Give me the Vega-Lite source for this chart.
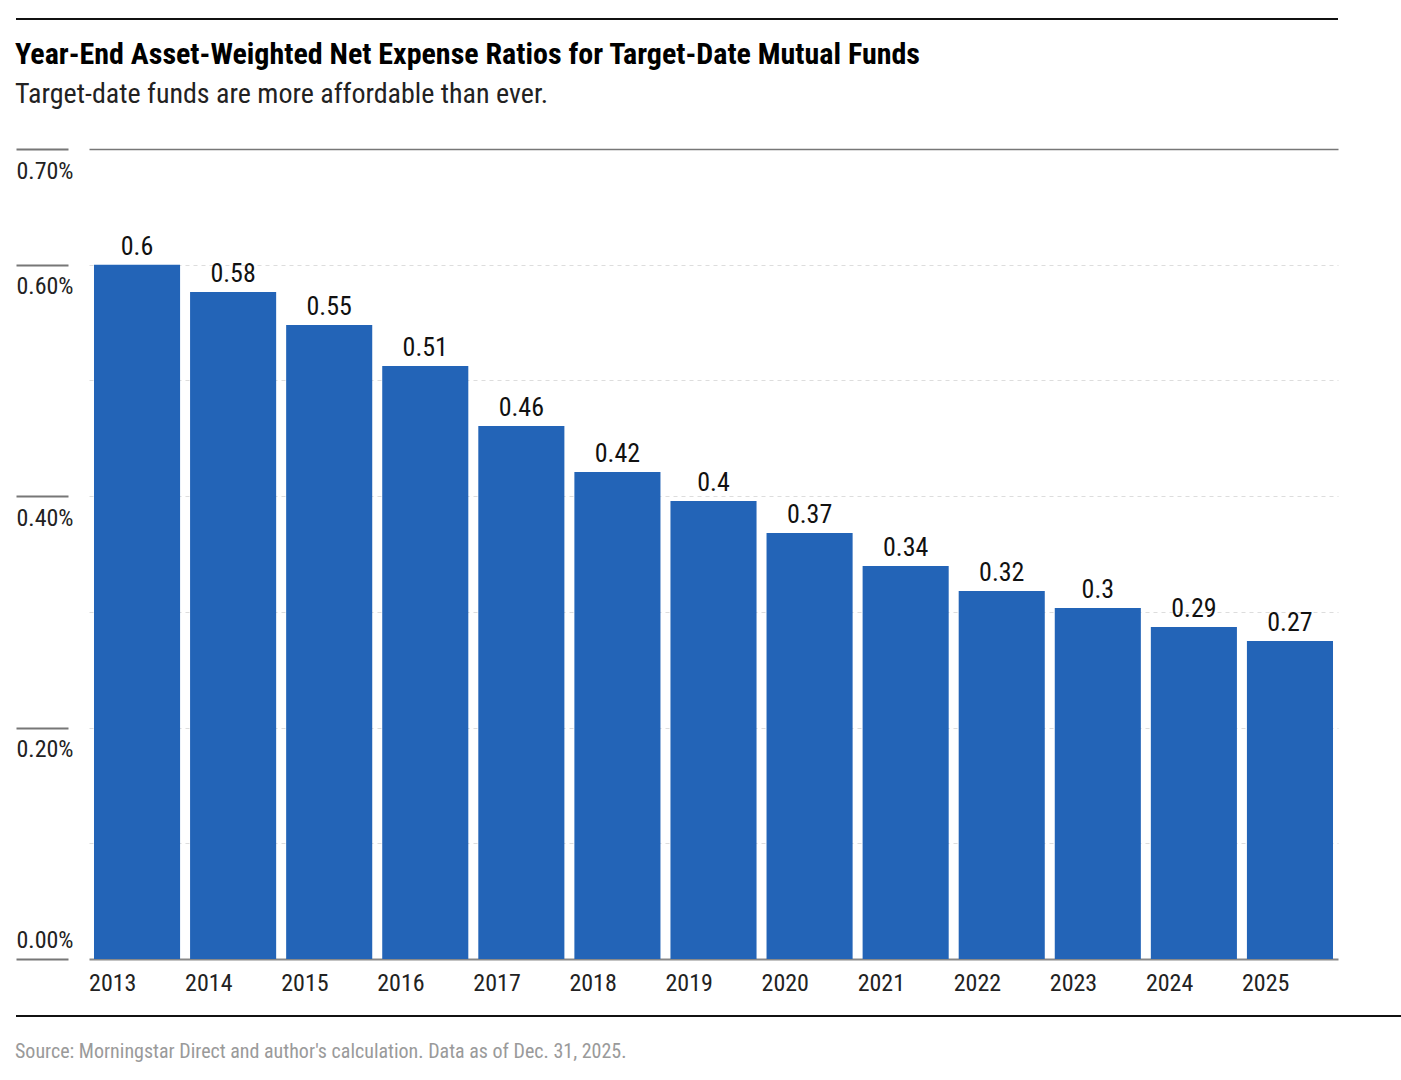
{
  "$schema": "https://vega.github.io/schema/vega-lite/v6.json",
  "description": "Year-end asset-weighted net expense ratios for target-date mutual funds, 2013-2025.",
  "background": "white",
  "padding": {"left": 15, "top": 18, "right": 0, "bottom": 5},
  "config": {
    "view": {"stroke": null},
    "font": "Roboto Condensed, Liberation Sans Narrow, DejaVu Sans Condensed, Roboto, sans-serif"
  },
  "spacing": 20,
  "vconcat": [
    {
      "width": 1249,
      "height": 2,
      "data": {"values": [{"start": 0, "end": 1, "level": 0.5}]},
      "mark": {"type": "rule", "color": "#111111", "strokeWidth": 2},
      "encoding": {
        "x": {"field": "start", "type": "quantitative", "axis": null, "scale": {"domain": [0, 1], "nice": false}},
        "x2": {"field": "end"},
        "y": {
          "field": "level",
          "type": "quantitative",
          "scale": {"domain": [0, 1], "nice": false},
          "axis": {"title": null, "values": [0.5], "labels": false, "domain": false, "grid": false, "translate": 0, "tickSize": 73, "tickColor": "#111111", "tickWidth": 2}
        }
      }
    },
    {
      "title": {
        "text": "Year-End Asset-Weighted Net Expense Ratios for Target-Date Mutual Funds",
        "subtitle": "Target-date funds are more affordable than ever.",
        "anchor": "start",
        "frame": "bounds",
        "fontSize": 30,
        "fontWeight": "bold",
        "color": "#000000",
        "subtitleFontSize": 28,
        "subtitleColor": "#222222",
        "subtitlePadding": 11,
        "offset": 39
      },
      "width": 1249,
      "height": 810,
      "data": {
        "values": [
          {"year": "2013", "ratio": 0.6},
          {"year": "2014", "ratio": 0.5765},
          {"year": "2015", "ratio": 0.548},
          {"year": "2016", "ratio": 0.5125},
          {"year": "2017", "ratio": 0.4607},
          {"year": "2018", "ratio": 0.4209},
          {"year": "2019", "ratio": 0.3958},
          {"year": "2020", "ratio": 0.3682},
          {"year": "2021", "ratio": 0.3397},
          {"year": "2022", "ratio": 0.318},
          {"year": "2023", "ratio": 0.3034},
          {"year": "2024", "ratio": 0.2869},
          {"year": "2025", "ratio": 0.2748}
        ]
      },
      "encoding": {
        "x": {
          "field": "year",
          "type": "ordinal",
          "scale": {"paddingInner": 0.104, "paddingOuter": 0.052},
          "axis": {
            "title": null,
            "labelAngle": 0,
            "labelAlign": "left",
            "labelOffset": -48,
            "labelPadding": 12,
            "labelFontSize": 24,
            "labelColor": "#222222",
            "ticks": false,
            "domainColor": "#888888",
            "domainWidth": 2
          }
        },
        "y": {
          "field": "ratio",
          "type": "quantitative",
          "scale": {"domain": [0, 0.7], "nice": false},
          "axis": {
            "title": null,
            "values": [0, 0.1, 0.2, 0.3, 0.4, 0.5, 0.6, 0.7],
            "labelExpr": "datum.value == 0.1 || datum.value == 0.3 || datum.value == 0.5 ? '' : format(datum.value, '.2f') + '%'",
            "domain": false,
            "offset": 21,
            "tickSize": 52,
            "tickColor": "#777777",
            "tickWidth": 2,
            "tickOpacity": {"condition": {"test": "datum.value == 0.1 || datum.value == 0.3 || datum.value == 0.5", "value": 0}, "value": 1},
            "labelAlign": "left",
            "labelPadding": 0,
            "labelBaseline": {"condition": {"test": "datum.value == 0", "value": "bottom"}, "value": "top"},
            "labelOffset": {"condition": {"test": "datum.value == 0", "value": -7}, "value": 10},
            "labelFontSize": 24,
            "labelColor": "#222222",
            "grid": true,
            "gridColor": {"condition": {"test": "datum.value == 0.7", "value": "#777777"}, "value": "#dddddd"},
            "gridDash": {"condition": {"test": "datum.value == 0.7", "value": []}, "value": [4, 4]},
            "gridWidth": {"condition": {"test": "datum.value == 0.7", "value": 1.5}, "value": 1},
            "gridOpacity": {"condition": {"test": "datum.value == 0", "value": 0}, "value": 1}
          }
        }
      },
      "layer": [
        {"mark": {"type": "bar", "color": "#2364b7"}},
        {
          "mark": {"type": "text", "baseline": "alphabetic", "dy": -10, "fontSize": 26, "color": "#111111"},
          "encoding": {"text": {"field": "ratio", "type": "quantitative", "format": ".2~f"}}
        }
      ]
    },
    {
      "title": {
        "text": "Source: Morningstar Direct and author's calculation. Data as of Dec. 31, 2025.",
        "orient": "bottom",
        "anchor": "start",
        "frame": "bounds",
        "fontSize": 20,
        "fontWeight": "normal",
        "color": "#9a9a9a",
        "offset": 25
      },
      "width": 1313,
      "height": 2,
      "data": {"values": [{"start": 0, "end": 1, "level": 0.5}]},
      "mark": {"type": "rule", "color": "#111111", "strokeWidth": 2},
      "encoding": {
        "x": {"field": "start", "type": "quantitative", "axis": null, "scale": {"domain": [0, 1], "nice": false}},
        "x2": {"field": "end"},
        "y": {
          "field": "level",
          "type": "quantitative",
          "scale": {"domain": [0, 1], "nice": false},
          "axis": {"title": null, "values": [0.5], "labels": false, "domain": false, "grid": false, "translate": 0, "tickSize": 73, "tickColor": "#111111", "tickWidth": 2}
        }
      }
    }
  ]
}
